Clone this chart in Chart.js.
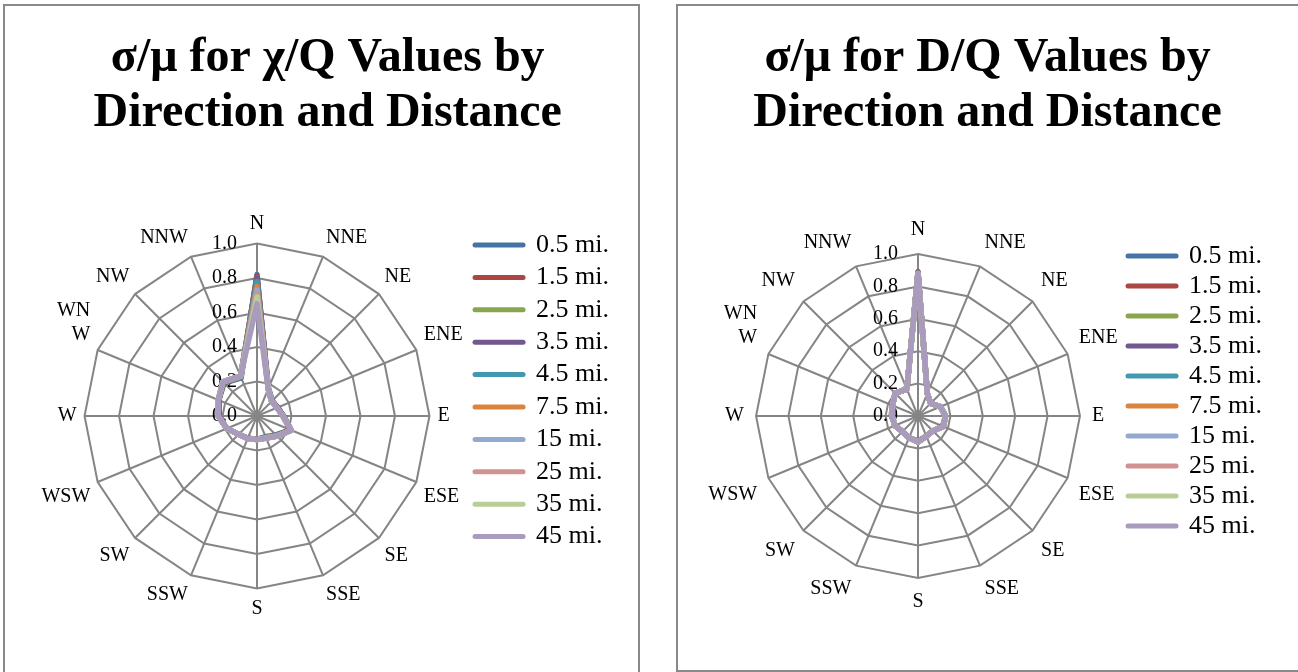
<!DOCTYPE html>
<html>
<head>
<meta charset="utf-8">
<title>σ/μ by Direction and Distance</title>
<script src="https://cdn.jsdelivr.net/npm/chart.js@4.4.1/dist/chart.umd.min.js"></script>
<style>
    html, body { margin: 0; padding: 0; background: #fff; overflow: hidden; }
    body { width: 1298px; height: 672px; position: relative; }
    .panel { position: absolute; border: 2px solid #898989; box-sizing: border-box; overflow: hidden; background: #fff; }
    #leftPanel { left: 3px; top: 4px; width: 637px; height: 700px; }
    #rightPanel { left: 676px; top: 4px; width: 626px; height: 668px; }
    canvas { display: block; }
</style>
</head>
<body>
<div class="panel" id="leftPanel"><canvas id="chiChart" width="633" height="696"></canvas></div>
<div class="panel" id="rightPanel"><canvas id="dChart" width="619" height="664"></canvas></div>

<script>
// Chart data
const DIRECTIONS = ['N', 'NNE', 'NE', 'ENE', 'E', 'ESE', 'SE', 'SSE', 'S', 'SSW', 'SW', 'WSW', 'W', ['WN', 'W'], 'NW', 'NNW'];
const DISTANCES = ['0.5 mi.', '1.5 mi.', '2.5 mi.', '3.5 mi.', '4.5 mi.', '7.5 mi.', '15 mi.', '25 mi.', '35 mi.', '45 mi.'];
const SERIES_COLORS = ['#4572A7', '#AA4643', '#89A54E', '#71588F', '#4198AF', '#DB843D', '#93A9CF', '#D19392', '#B9CD96', '#A99BBD'];
const TICK_MIN = 0;
const TICK_MAX = 1;
const TICK_STEP = 0.2;

// sigma/mu of chi/Q, one row per distance, N .. NNW
const chiQValues = [
    [0.82, 0.17, 0.12, 0.13, 0.15, 0.21, 0.155, 0.13, 0.135, 0.14, 0.15, 0.19, 0.22, 0.24, 0.27, 0.24],    // 0.5 mi.
    [0.81, 0.17, 0.12, 0.13, 0.15, 0.21, 0.16, 0.135, 0.135, 0.14, 0.15, 0.19, 0.22, 0.24, 0.275, 0.245],   // 1.5 mi.
    [0.80, 0.17, 0.125, 0.125, 0.155, 0.215, 0.16, 0.135, 0.137, 0.14, 0.15, 0.19, 0.225, 0.24, 0.275, 0.245], // 2.5 mi.
    [0.80, 0.175, 0.125, 0.13, 0.155, 0.215, 0.165, 0.138, 0.137, 0.142, 0.15, 0.19, 0.225, 0.24, 0.28, 0.25], // 3.5 mi.
    [0.78, 0.17, 0.12, 0.125, 0.15, 0.215, 0.165, 0.138, 0.137, 0.142, 0.15, 0.19, 0.225, 0.243, 0.28, 0.25],  // 4.5 mi.
    [0.75, 0.17, 0.12, 0.125, 0.15, 0.215, 0.165, 0.138, 0.137, 0.142, 0.15, 0.19, 0.225, 0.243, 0.28, 0.25],  // 7.5 mi.
    [0.73, 0.17, 0.12, 0.125, 0.15, 0.215, 0.165, 0.138, 0.137, 0.142, 0.15, 0.19, 0.225, 0.243, 0.28, 0.25],  // 15 mi.
    [0.71, 0.17, 0.12, 0.125, 0.15, 0.215, 0.165, 0.138, 0.137, 0.142, 0.15, 0.19, 0.225, 0.243, 0.28, 0.25],  // 25 mi.
    [0.69, 0.17, 0.12, 0.125, 0.15, 0.215, 0.165, 0.138, 0.137, 0.142, 0.15, 0.19, 0.225, 0.243, 0.28, 0.25],  // 35 mi.
    [0.65, 0.17, 0.12, 0.125, 0.15, 0.215, 0.165, 0.138, 0.137, 0.142, 0.15, 0.19, 0.225, 0.243, 0.28, 0.25]   // 45 mi.
];

// sigma/mu of D/Q, one row per distance, N .. NNW
const dQValues = [
    [0.89, 0.15, 0.11, 0.15, 0.17, 0.165, 0.13, 0.135, 0.155, 0.145, 0.135, 0.155, 0.16, 0.17, 0.2, 0.18],  // 0.5 mi.
    [0.89, 0.15, 0.11, 0.15, 0.17, 0.165, 0.13, 0.135, 0.155, 0.145, 0.135, 0.155, 0.16, 0.17, 0.2, 0.18],  // 1.5 mi.
    [0.885, 0.15, 0.11, 0.15, 0.17, 0.17, 0.13, 0.135, 0.16, 0.145, 0.135, 0.155, 0.16, 0.17, 0.2, 0.18],   // 2.5 mi.
    [0.885, 0.15, 0.11, 0.15, 0.17, 0.17, 0.13, 0.135, 0.16, 0.145, 0.135, 0.155, 0.16, 0.17, 0.2, 0.18],   // 3.5 mi.
    [0.88, 0.15, 0.11, 0.15, 0.17, 0.17, 0.13, 0.135, 0.16, 0.145, 0.135, 0.155, 0.16, 0.17, 0.2, 0.18],    // 4.5 mi.
    [0.88, 0.15, 0.11, 0.15, 0.17, 0.17, 0.13, 0.135, 0.16, 0.145, 0.135, 0.155, 0.16, 0.17, 0.2, 0.18],    // 7.5 mi.
    [0.88, 0.15, 0.11, 0.15, 0.17, 0.17, 0.13, 0.135, 0.16, 0.145, 0.135, 0.155, 0.16, 0.17, 0.2, 0.18],    // 15 mi.
    [0.88, 0.15, 0.11, 0.15, 0.17, 0.17, 0.13, 0.135, 0.16, 0.145, 0.135, 0.155, 0.16, 0.17, 0.2, 0.18],    // 25 mi.
    [0.88, 0.15, 0.11, 0.15, 0.17, 0.17, 0.13, 0.135, 0.16, 0.145, 0.135, 0.155, 0.16, 0.17, 0.2, 0.18],    // 35 mi.
    [0.88, 0.15, 0.11, 0.15, 0.17, 0.17, 0.13, 0.135, 0.16, 0.145, 0.135, 0.155, 0.16, 0.17, 0.2, 0.18]     // 45 mi.
];

const FONT = '"Liberation Serif", "Times New Roman", serif';
Chart.defaults.font.family = FONT;
Chart.defaults.color = '#000';

// Axis numbers sit left of the north spoke (Excel style), 0.0 included
const tickLabelPlugin = {
    id: 'tickLabels',
    beforeDatasetsDraw(chart) {
        const scale = chart.scales.r;
        const ctx = chart.ctx;
        ctx.save();
        ctx.font = '20px ' + FONT;
        ctx.fillStyle = '#000';
        ctx.textAlign = 'right';
        ctx.textBaseline = 'middle';
        scale.ticks.forEach(tick => {
            const d = scale.getDistanceFromCenterForValue(tick.value);
            ctx.fillText(tick.value.toFixed(1), scale.xCenter - 20, scale.yCenter - d);
        });
        ctx.restore();
    }
};

// Build one radar panel
function buildRadar(canvasId, titleLines, values, box) {
    const datasets = DISTANCES.map((name, i) => ({
        label: name,
        data: values[i],
        borderColor: SERIES_COLORS[i],
        backgroundColor: SERIES_COLORS[i],
        borderWidth: 5.5,
        borderJoinStyle: 'round',
        borderCapStyle: 'round',
        pointRadius: 0,
        pointHoverRadius: 0,
        fill: false,
        order: DISTANCES.length - i   // 45 mi. ends up on top
    }));

    return new Chart(document.getElementById(canvasId), {
        type: 'radar',
        data: { labels: DIRECTIONS, datasets: datasets },
        options: {
            responsive: false,
            animation: false,
            layout: { padding: box.padding },
            plugins: {
                title: {
                    display: true,
                    text: titleLines,
                    color: '#000',
                    font: { family: FONT, size: 48, weight: 'bold', lineHeight: 1.146 },
                    padding: box.titlePadding
                },
                legend: {
                    position: 'right',
                    align: 'center',
                    title: { display: true, text: ' ', font: { size: 10 }, padding: { top: box.legendOffset - 12, bottom: 0 } },
                    labels: {
                        usePointStyle: true,
                        pointStyle: 'line',
                        pointStyleWidth: 48,
                        padding: box.legendGap,
                        color: '#000',
                        font: { family: FONT, size: 26 },
                        sort: (a, b) => a.datasetIndex - b.datasetIndex,
                        generateLabels(chart) {
                            const items = Chart.defaults.plugins.legend.labels.generateLabels(chart);
                            items.forEach(item => {
                                item.lineWidth = 5;
                                item.lineCap = 'round';
                                item.strokeStyle = SERIES_COLORS[item.datasetIndex];
                            });
                            return items;
                        }
                    }
                },
                tooltip: { enabled: false }
            },
            scales: {
                r: {
                    min: TICK_MIN,
                    max: TICK_MAX,
                    ticks: {
                        stepSize: TICK_STEP,
                        display: box.tickPad > 0,
                        color: 'rgba(0,0,0,0)',
                        showLabelBackdrop: false,
                        font: { size: 5 },
                        backdropPadding: Math.max(0, box.tickPad - 2.5)
                    },
                    grid: { color: '#858585', lineWidth: 2 },
                    angleLines: { color: '#858585', lineWidth: 2 },
                    pointLabels: { color: '#000', padding: 8, font: { family: FONT, size: 20 } }
                }
            }
        },
        plugins: [tickLabelPlugin]
    });
}

buildRadar('chiChart', ['σ/μ for χ/Q Values by', 'Direction and Distance'], chiQValues, {
    padding: { left: 31.4, right: 19, top: 0, bottom: 66 },
    titlePadding: { top: 25.3, bottom: 54.7 },
    legendOffset: 139.6,
    legendGap: 6.4,
    tickPad: 0
});

buildRadar('dChart', ['σ/μ for D/Q Values by', 'Direction and Distance'], dQValues, {
    padding: { left: 25, right: 25, top: 0, bottom: 39 },
    titlePadding: { top: 25.3, bottom: 59.7 },
    legendOffset: 145,
    legendGap: 4,
    tickPad: 4.1
});
</script>
</body>
</html>
